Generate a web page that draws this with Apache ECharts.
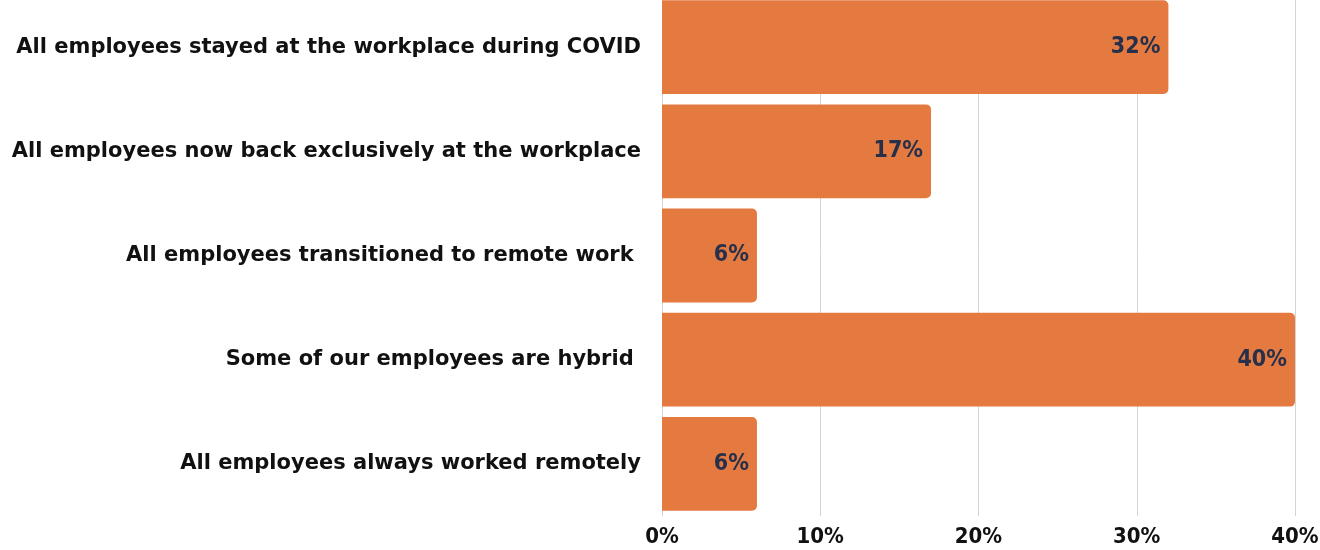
<!DOCTYPE html>
<html>
<head>
<meta charset="utf-8">
<script src="https://cdn.jsdelivr.net/npm/echarts@6/dist/echarts.min.js"></script>
<style>
html,body{margin:0;padding:0;background:#fff;overflow:hidden;}
#chart{width:1320px;height:555px;margin-top:-5px;}
</style>
</head>
<body>
<div id="chart"></div>
<script>
const categories = [
  "All employees stayed at the workplace during COVID",
  "All employees now back exclusively at the workplace",
  "All employees transitioned to remote work ",
  "Some of our employees are hybrid ",
  "All employees always worked remotely"
];
const values = [32, 17, 6, 40, 6];
const xTicks = [0, 10, 20, 30, 40];

const CAT_FONT = '"DejaVu Sans", sans-serif';
const NUM_FONT = '"Liberation Sans Narrow", "DejaVu Sans Condensed", sans-serif';
const chart = echarts.init(document.getElementById('chart'), null, {renderer: 'canvas'});
chart.setOption({
  animation: false,
  backgroundColor: '#ffffff',
  grid: {left: 662, right: 25, top: 0, bottom: 34, containLabel: false, outerBoundsMode: 'none'},
  xAxis: {
    type: 'value',
    min: xTicks[0],
    max: xTicks[xTicks.length - 1],
    interval: 10,
    axisLine: {show: false},
    axisTick: {show: false},
    splitLine: {show: true, lineStyle: {color: '#d4d4d4', width: 1}},
    axisLabel: {
      margin: 10,
      formatter: v => v + '%',
      color: '#111111',
      fontFamily: NUM_FONT,
      fontWeight: 'bold',
      fontSize: 22
    }
  },
  yAxis: {
    type: 'category',
    inverse: true,
    data: categories,
    axisLine: {show: true, lineStyle: {color: '#d4d4d4'}},
    axisTick: {show: false},
    axisLabel: {
      margin: 21,
      color: '#111111',
      fontFamily: CAT_FONT,
      fontWeight: 'bold',
      fontSize: 21
    }
  },
  series: [{
    type: 'bar',
    data: values,
    barCategoryGap: '10%',
    itemStyle: {color: '#E57A40', borderRadius: [0, 5, 5, 0]},
    label: {
      show: true,
      position: 'insideRight',
      distance: 8,
      formatter: p => p.value + '%',
      color: '#27304A',
      fontFamily: NUM_FONT,
      fontWeight: 'bold',
      fontSize: 23
    }
  }]
});
</script>
</body>
</html>
